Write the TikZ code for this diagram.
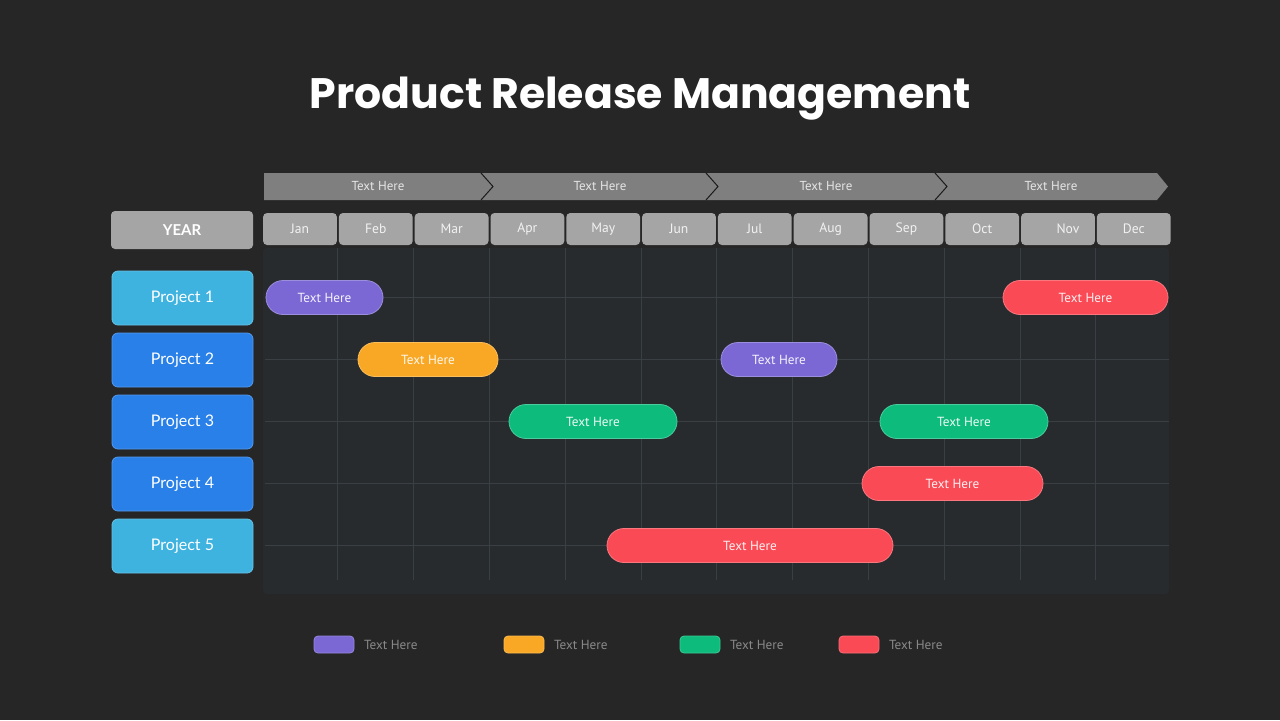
\documentclass[tikz,border=0pt]{standalone}
\usepackage{fontspec}
\setmainfont{PT Sans}
\newfontfamily\titlefont{Poppins}
\newfontfamily\labelfont{Lato}
\definecolor{PageDark}{HTML}{262626}
\definecolor{PanelDark}{HTML}{272B2E}
\definecolor{GridLine}{HTML}{3A3F43}
\definecolor{PhaseGray}{HTML}{7F7F7F}
\definecolor{MonthGray}{HTML}{A5A5A5}
\definecolor{SkyBlue}{HTML}{3FB3E0}
\definecolor{DeepBlue}{HTML}{2880E8}
\definecolor{BarPurple}{HTML}{7B68D4}
\definecolor{BarOrange}{HTML}{F9A825}
\definecolor{BarGreen}{HTML}{0DBB7C}
\definecolor{BarRed}{HTML}{F94A55}
\definecolor{LegendText}{HTML}{8A8A8A}
\usepackage{tikz}
\usetikzlibrary{positioning}

\begin{document}
\begin{tikzpicture}[x=0.5pt, y=-0.5pt,
      every node/.style={inner sep=0pt, outer sep=0pt, align=center},
      phase/.style={text=white!90!black, font=\fontsize{6.5}{8}\selectfont},
      month/.style={fill=MonthGray, rounded corners=2pt, text=white!95!black,
                    minimum width=36.9pt, minimum height=16pt, font=\fontsize{6.8}{8}\selectfont},
      project/.style={rounded corners=3pt, draw=#1!80!white, fill=#1, text=white,
                      minimum width=70.5pt, minimum height=27pt, font=\labelfont\fontsize{8}{10}\selectfont},
      bar/.style={rounded corners=8.5pt, draw=#1!75!white, fill=#1, text=white!92!#1,
                  minimum height=17pt, font=\fontsize{6.6}{8}\selectfont},
      swatch/.style={rounded corners=2pt, draw=#1!80!white, fill=#1,
                     minimum width=20pt, minimum height=8.5pt},
      legend/.style={text=LegendText, font=\fontsize{6.6}{8}\selectfont, anchor=west},
      gridline/.style={draw=GridLine, line width=0.4pt},
      notch/.style={draw=PageDark!70!black, line width=0.5pt}
  ]
    \useasboundingbox[fill=PageDark] (0,0) rectangle (1280,720);

    \node[text=white, font=\titlefont\bfseries\fontsize{21.3}{25}\selectfont] (title) at (640,99) {Product Release Management};

    % phase band
    \fill[PhaseGray] (264,173) -- (1157,173) -- (1168,186.5) -- (1157,200) -- (264,200) -- cycle;
    \draw[notch] (481,173) -- (493,186.5) -- (481,200);
    \draw[notch] (706,173) -- (718,186.5) -- (706,200);
    \draw[notch] (935,173) -- (947,186.5) -- (935,200);
    \node[phase] (ph1) at (378,186.5) {Text Here};
    \node[phase] (ph2) at (600,186.5) {Text Here};
    \node[phase] (ph3) at (826,186.5) {Text Here};
    \node[phase] (ph4) at (1051,186.5) {Text Here};

    % months
    \node[month] (jan) at (300,229) {Jan};
    \node[month, right=1pt of jan] (feb) {Feb};
    \node[month, right=1pt of feb] (mar) {Mar};
    \node[month, right=1pt of mar] (apr) {Apr};
    \node[month, right=1pt of apr] (may) {May};
    \node[month, right=1pt of may] (jun) {Jun};
    \node[month, right=1pt of jun] (jul) {Jul};
    \node[month, right=1pt of jul] (aug) {Aug};
    \node[month, right=1pt of aug] (sep) {Sep};
    \node[month, right=1pt of sep] (oct) {Oct};
    \node[month, right=1pt of oct] (nov) {\hspace*{10pt}Nov};
    \node[month, right=1pt of nov] (dec) {Dec};

    % chart panel
    \fill[PanelDark, rounded corners=2pt] (263,248) rectangle (1169,594);
    \foreach \x in {337.8,413.6,489.4,565.2,641,716.8,792.6,868.4,944.2,1020,1095.8}
      \draw[gridline] (\x,248) -- (\x,580);
    \foreach \y in {297,359,421,483,545}
      \draw[gridline] (265,\y) -- (1169,\y);

    % projects
    \node[fill=MonthGray, rounded corners=2pt, text=white, minimum width=71pt, minimum height=19pt,
          font=\labelfont\bfseries\fontsize{7.5}{9}\selectfont] (year) at (182,230) {YEAR};
    \node[project=SkyBlue] (p1) at (182.5,298) {Project 1};
    \node[project=DeepBlue, below=4pt of p1] (p2) {Project 2};
    \node[project=DeepBlue, below=4pt of p2] (p3) {Project 3};
    \node[project=DeepBlue, below=4pt of p3] (p4) {Project 4};
    \node[project=SkyBlue, below=4pt of p4] (p5) {Project 5};

    % bars
    \node[bar=BarPurple, minimum width=58.5pt] (b1a) at (324.5,297.5) {Text Here};
    \node[bar=BarRed, minimum width=82.5pt] (b1b) at (1085.5,297.5) {Text Here};
    \node[bar=BarOrange, minimum width=70pt] (b2a) at (428,359.5) {Text Here};
    \node[bar=BarPurple, minimum width=58pt] (b2b) at (779,359.5) {Text Here};
    \node[bar=BarGreen, minimum width=84pt] (b3a) at (593,421.5) {Text Here};
    \node[bar=BarGreen, minimum width=84pt] (b3b) at (964,421.5) {Text Here};
    \node[bar=BarRed, minimum width=90.5pt] (b4a) at (952.5,483.5) {Text Here};
    \node[bar=BarRed, minimum width=143pt] (b5a) at (750,545.5) {Text Here};

    % legend
    \node[swatch=BarPurple] (s1) at (334,644.5) {};
    \node[legend, right=5pt of s1] (l1) {Text Here};
    \node[swatch=BarOrange] (s2) at (524,644.5) {};
    \node[legend, right=5pt of s2] (l2) {Text Here};
    \node[swatch=BarGreen] (s3) at (700,644.5) {};
    \node[legend, right=5pt of s3] (l3) {Text Here};
    \node[swatch=BarRed] (s4) at (859,644.5) {};
    \node[legend, right=5pt of s4] (l4) {Text Here};
\end{tikzpicture}
\end{document}
